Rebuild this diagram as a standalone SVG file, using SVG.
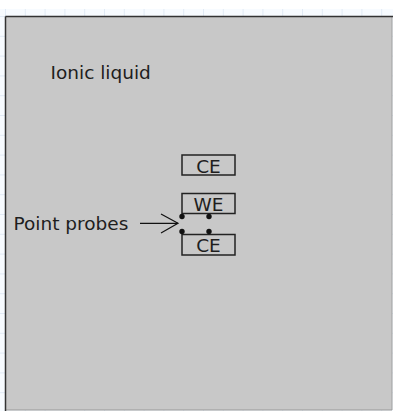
<svg xmlns="http://www.w3.org/2000/svg" width="393" height="411" viewBox="0 0 393 411">
<defs>
<style>
.t{font-family:"DejaVu Sans",Verdana,sans-serif;font-size:18.5px;fill:#1e1e1e}
.box{fill:none;stroke:#222;stroke-width:1.5}
.dot{fill:#111}
.conn{stroke:#111;stroke-width:1.2;fill:none}
</style>
<pattern id="gv" x="5" y="0" width="19.8" height="19.8" patternUnits="userSpaceOnUse">
<line x1="0.5" y1="0" x2="0.5" y2="19.8" stroke="#e1eaf5" stroke-width="1"/>
</pattern>
<pattern id="gh" x="0" y="16" width="19.8" height="19.8" patternUnits="userSpaceOnUse">
<line x1="0" y1="0.5" x2="19.8" y2="0.5" stroke="#e1eaf5" stroke-width="1"/>
</pattern>
</defs>
<rect width="393" height="411" fill="#fff"/>
<rect x="0" y="9" width="393" height="402" fill="#f7fbff"/>
<rect x="0" y="9" width="393" height="402" fill="url(#gv)"/>
<rect x="0" y="9" width="393" height="402" fill="url(#gh)"/>
<g id="liquid">
<rect x="5" y="16" width="387" height="394" fill="#c8c8c8"/>
<line x1="392" y1="16" x2="392" y2="410" stroke="#a0a0a0" stroke-width="1"/>
<line x1="5" y1="410" x2="392" y2="410" stroke="#999" stroke-width="1"/>
<line x1="5.5" y1="16.5" x2="393" y2="16.5" stroke="#333" stroke-width="1.5"/>
<line x1="5.5" y1="16.5" x2="5.5" y2="411" stroke="#333" stroke-width="1.5"/>
<text class="t" x="50.5" y="79">Ionic liquid</text>
</g>
<g id="ce-top">
<rect class="box" x="182" y="155" width="53" height="20"/>
<text class="t" x="208.5" y="173" text-anchor="middle">CE</text>
</g>
<g id="we">
<rect class="box" x="182" y="193.5" width="53" height="20"/>
<text class="t" x="208.5" y="211" text-anchor="middle">WE</text>
</g>
<g id="ce-bottom">
<rect class="box" x="182" y="234.5" width="53" height="20.5"/>
<text class="t" x="208.5" y="252" text-anchor="middle">CE</text>
</g>
<g id="probes">
<circle class="dot" cx="182" cy="216.5" r="2.7"/>
<circle class="dot" cx="209" cy="216.5" r="2.7"/>
<circle class="dot" cx="182" cy="231.5" r="2.7"/>
<circle class="dot" cx="209" cy="231.5" r="2.7"/>
</g>
<g id="label">
<text class="t" x="13.5" y="230">Point probes</text>
</g>
<g id="connectors">
<line class="conn" x1="140" y1="223.3" x2="178" y2="223.3"/>
<polyline class="conn" points="161,214 178,223.3 161,233"/>
</g>
</svg>
